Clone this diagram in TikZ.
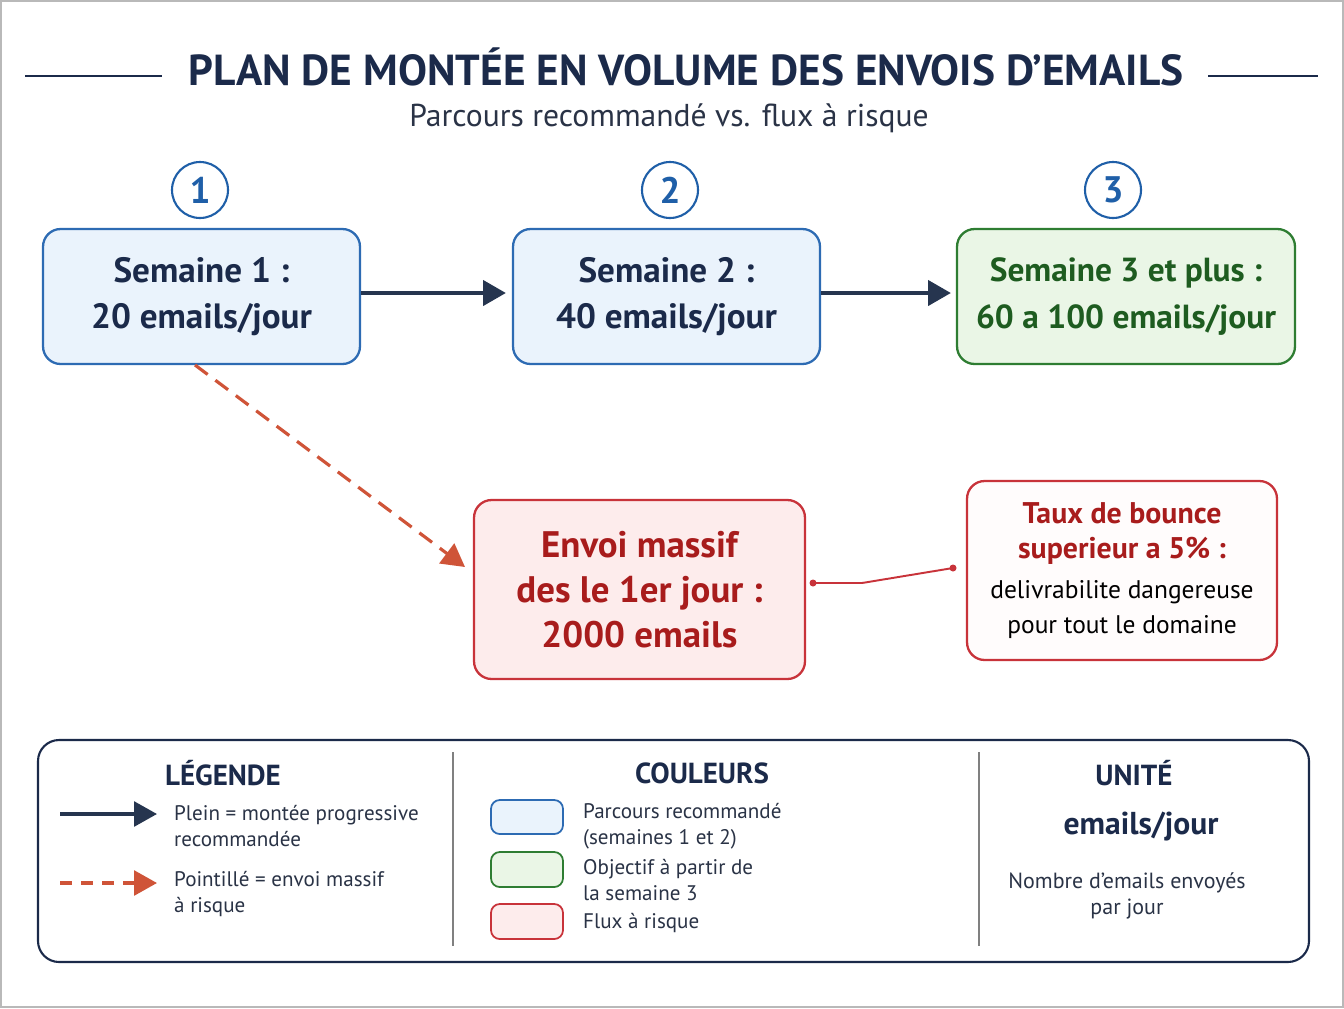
\documentclass[tikz,border=0pt]{standalone}
\usepackage{fontspec}
\setmainfont{PT Sans}
\usetikzlibrary{arrows.meta}
\definecolor{navy}{HTML}{1B2A4A}
\definecolor{stepblue}{HTML}{1F5FA8}
\definecolor{boxblue}{HTML}{2D6BB3}
\definecolor{fillblue}{HTML}{EAF3FC}
\definecolor{boxgreen}{HTML}{2E7D32}
\definecolor{fillgreen}{HTML}{EAF6E6}
\definecolor{textgreen}{HTML}{1E5C20}
\definecolor{boxred}{HTML}{C8333A}
\definecolor{fillred}{HTML}{FDECEC}
\definecolor{textred}{HTML}{A81C1C}
\definecolor{riskorange}{HTML}{CF5438}
\definecolor{arrownavy}{HTML}{26354F}
\definecolor{textgray}{HTML}{2A3346}
\tikzset{
  stepnum/.style={circle, draw=stepblue, line width=1.2pt, fill=white, minimum size=1.12cm, inner sep=0pt, text=stepblue, font=\bfseries\fontsize{21}{24}\selectfont},
  weekbox/.style={rounded corners=10pt, line width=1.3pt, align=center, minimum height=2.7cm, font=\bfseries\fontsize{20}{26.5}\selectfont},
  bluebox/.style={weekbox, draw=boxblue, fill=fillblue, text=navy},
  greenbox/.style={weekbox, draw=boxgreen, fill=fillgreen, text=textgreen},
  riskbox/.style={rounded corners=10pt, line width=1.3pt, align=center, minimum height=3.58cm, draw=boxred},
  planarrow/.style={-{Triangle[length=13pt,width=14pt]}, arrownavy, line width=2.8pt},
  riskarrow/.style={-{Triangle[length=13pt,width=14pt]}, riskorange, line width=1.8pt, dash pattern=on 9pt off 5.5pt},
  legtext/.style={anchor=west, align=left, text=textgray, font=\fontsize{12}{14.7}\selectfont},
  leghead/.style={text=navy, font=\bfseries\fontsize{16.5}{19}\selectfont},
  swatch/.style={rounded corners=5pt, line width=1pt},
}
\begin{document}
\begin{tikzpicture}[x=0.02cm, y=-0.02cm]
\useasboundingbox (0,0) rectangle (1344,1008);
\draw[gray!55, line width=0.8pt] (1,1) rectangle (1343,1007);
% title
\node[text=navy, font=\bfseries\fontsize{24.7}{28}\selectfont] (title) at (686,67) {PLAN DE MONTÉE EN VOLUME DES ENVOIS D’EMAILS};
\draw[navy, line width=1.3pt] (25,76) -- (162,76);
\draw[navy, line width=1.3pt] (1208,76) -- (1318,76);
\node[text=textgray, font=\fontsize{18}{21}\selectfont] (subtitle) at (669,118) {Parcours recommandé vs. flux à risque};
% step numbers
\node[stepnum] (n1) at (200,190) {1};
\node[stepnum] (n2) at (670,190) {2};
\node[stepnum] (n3) at (1113,190) {3};
% weeks
\node[bluebox, minimum width=6.34cm] (week1) at (201.5,296.5) {Semaine 1 :\\20 emails/jour};
\node[bluebox, minimum width=6.14cm] (week2) at (666.5,296.5) {Semaine 2 :\\40 emails/jour};
\node[greenbox, minimum width=6.76cm, font=\bfseries\fontsize{19}{26.5}\selectfont] (week3) at (1126,296.5) {Semaine 3 et plus :\\60 a 100 emails/jour};
\draw[planarrow] (week1.east |- 0,293) -- (506,293);
\draw[planarrow] (week2.east |- 0,293) -- (951,293);
% risky path
\node[riskbox, fill=fillred, minimum width=6.62cm, text=textred, font=\bfseries\fontsize{21}{25.5}\selectfont] (massive) at (639.5,589.5) {Envoi massif\\des le 1er jour :\\2000 emails};
\node[riskbox, fill=red!1, minimum width=6.2cm, font=\fontsize{14.5}{20}\selectfont] (bounce) at (1122,570.5) {\textcolor{textred}{\bfseries\fontsize{17}{20}\selectfont Taux de bounce}\\\textcolor{textred}{\bfseries\fontsize{17}{20}\selectfont superieur a 5\% :}\\[2.7pt]delivrabilite dangereuse\\pour tout le domaine};
\coordinate (jump) at (195,365);
\draw[riskarrow] (jump) -- (465,567);
\coordinate (dotA) at (813,583);
\coordinate (dotB) at (953,568);
\draw[boxred, line width=1.1pt] (dotA) -- (862,583) -- (dotB);
\fill[boxred] (dotA) circle (3.5);
\fill[boxred] (dotB) circle (3.5);
% legend
\draw[navy, line width=1.2pt, rounded corners=12pt, fill=white] (38,740) rectangle (1309,962);
\draw[gray, line width=0.9pt] (453,752) -- (453,946);
\draw[gray, line width=0.9pt] (979,752) -- (979,946);
\node[leghead] (legende) at (223,773) {LÉGENDE};
\coordinate (solidA) at (60,814);
\coordinate (solidB) at (157,814);
\draw[planarrow, line width=2pt] (solidA) -- (solidB);
\node[legtext] (solidtxt) at (168,826) {Plein = montée progressive\\recommandée};
\coordinate (dashA) at (60,883);
\coordinate (dashB) at (157,883);
\draw[riskarrow, line width=2pt, dash pattern=on 7pt off 5pt] (dashA) -- (dashB);
\node[legtext] (dashtxt) at (168,894) {Pointillé = envoi massif\\à risque};
\node[leghead] (couleurs) at (702,773) {COULEURS};
\draw[swatch, draw=boxblue, fill=fillblue] (491,800) rectangle (563,834);
\draw[swatch, draw=boxgreen, fill=fillgreen] (491,852) rectangle (563,887);
\draw[swatch, draw=boxred, fill=fillred] (491,904) rectangle (563,939);
\node[legtext] (bluetxt) at (577,826) {Parcours recommandé\\(semaines 1 et 2)};
\node[legtext] (greentxt) at (577,880) {Objectif à partir de\\la semaine 3};
\node[legtext] (redtxt) at (577,923) {Flux à risque};
\node[leghead] (unite) at (1134,773) {UNITÉ};
\node[text=navy, font=\bfseries\fontsize{18}{22}\selectfont] (unit) at (1141,827) {emails/jour};
\node[text=textgray, align=center, font=\fontsize{12.5}{14.7}\selectfont] (unittxt) at (1127,896) {Nombre d’emails envoyés\\par jour};
\end{tikzpicture}
\end{document}
